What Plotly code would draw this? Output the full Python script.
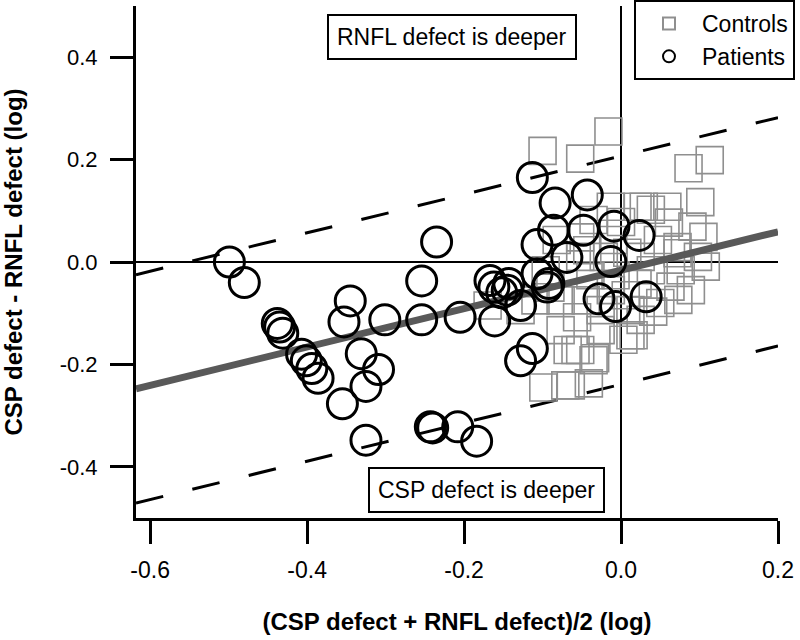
import plotly.graph_objects as go

# ---------------- data ----------------
patients_x = [-0.499, -0.480, -0.438, -0.435, -0.431, -0.407, -0.401, -0.394, -0.386,
              -0.345, -0.353, -0.331, -0.309, -0.325, -0.355, -0.325, -0.301, -0.254,
              -0.254, -0.235, -0.205, -0.243, -0.240, -0.208, -0.184, -0.161, -0.167,
              -0.162, -0.145, -0.143, -0.128, -0.113, -0.128, -0.113, -0.084, -0.043,
              -0.086, -0.107, -0.048, -0.009, 0.023, -0.069, -0.013, -0.107, -0.092,
              -0.094, -0.028, -0.007, 0.032, -0.152]
patients_y = [0.000, -0.040, -0.120, -0.127, -0.139, -0.180, -0.193, -0.208, -0.227,
              -0.076, -0.117, -0.179, -0.210, -0.243, -0.277, -0.348, -0.113, -0.113,
              -0.037, 0.039, -0.108, -0.322, -0.324, -0.322, -0.350, -0.115, -0.036,
              -0.049, -0.055, -0.042, -0.085, -0.169, -0.193, 0.165, 0.115, 0.131,
              0.062, 0.034, 0.062, 0.070, 0.052, 0.009, 0.001, -0.023, -0.042,
              -0.049, -0.072, -0.087, -0.068, -0.060]

controls_x = [-0.100, -0.052, -0.016, 0.086, 0.113, 0.101, -0.035, 0.029, 0.038, 0.061,
              -0.052, -0.043, 0.072, -0.170, -0.090, -0.056, -0.026, 0.012, 0.050, 0.016,
              -0.052, -0.035, 0.003, -0.099, -0.064, -0.041, -0.068, -0.033, -0.058, 0.012,
              0.041, 0.073, 0.063, 0.108, 0.021, -0.071, -0.013, 0.021, 0.059, 0.091,
              0.105, 0.098, 0.072, 0.047, -0.010, 0.008, 0.025, -0.022, -0.052, -0.082,
              0.000, 0.038, -0.007, -0.039, -0.077, -0.096, -0.109, -0.013, 0.006, 0.089,
              0.076, -0.077, -0.026, 0.025, -0.128, -0.045]
controls_y = [0.217, 0.202, 0.255, 0.183, 0.199, 0.117, 0.082, 0.108, 0.102, 0.077,
              0.048, 0.023, 0.017, -0.085, -0.050, -0.108, -0.094, -0.094, -0.080, -0.143,
              -0.172, -0.192, -0.152, -0.245, -0.241, -0.237, -0.172, -0.188, -0.172, -0.143,
              -0.097, -0.074, -0.048, -0.009, -0.042, -0.241, 0.108, 0.108, 0.108, 0.069,
              0.049, 0.010, 0.029, 0.043, 0.043, 0.018, 0.010, 0.010, 0.010, 0.043,
              0.078, -0.016, -0.026, -0.026, -0.075, -0.016, -0.075, -0.055, -0.065, -0.055,
              -0.016, -0.133, -0.133, -0.113, -0.094, -0.075]

# Bland-Altman style fit: mean line and limits of agreement
fit_slope = 0.375
fit_intercept = -0.016
fit_limit = 0.223
line_x = [-0.618, 0.2]

x_ticks = [-0.6, -0.4, -0.2, 0.0, 0.2]
x_tick_text = ["-0.6", "-0.4", "-0.2", "0.0", "0.2"]
y_ticks = [-0.4, -0.2, 0.0, 0.2, 0.4]
y_tick_text = ["-0.4", "-0.2", "0.0", "0.2", "0.4"]

FONT = "Liberation Sans, Arial, sans-serif"

fit_y = [fit_intercept + fit_slope * x for x in line_x]
upper_y = [v + fit_limit for v in fit_y]
lower_y = [v - fit_limit for v in fit_y]

fig = go.Figure()

fig.add_trace(go.Scatter(x=line_x, y=upper_y, mode="lines", showlegend=False,
                         line=dict(color="black", width=3, dash="28px,30px"), hoverinfo="skip"))
fig.add_trace(go.Scatter(x=line_x, y=lower_y, mode="lines", showlegend=False,
                         line=dict(color="black", width=3, dash="28px,30px"), hoverinfo="skip"))

fig.add_trace(go.Scatter(x=controls_x, y=controls_y, mode="markers", name="Controls",
                         marker=dict(symbol="square-open", size=27, color="#8f8f8f",
                                     line=dict(color="#8f8f8f", width=1.6))))
fig.add_trace(go.Scatter(x=line_x, y=fit_y, mode="lines", showlegend=False,
                         line=dict(color="#595959", width=7), hoverinfo="skip"))
fig.add_trace(go.Scatter(x=patients_x, y=patients_y, mode="markers", name="Patients",
                         marker=dict(symbol="circle-open", size=30, color="black",
                                     line=dict(color="black", width=3))))

fig.add_annotation(x=-0.215, y=0.439, xref="x", yref="y", text="RNFL defect is deeper",
                   showarrow=False, font=dict(family=FONT, size=23, color="black"),
                   bordercolor="black", borderwidth=2, borderpad=8, bgcolor="white")
fig.add_annotation(x=-0.172, y=-0.446, xref="x", yref="y", text="CSP defect is deeper",
                   showarrow=False, font=dict(family=FONT, size=23, color="black"),
                   bordercolor="black", borderwidth=2, borderpad=8, bgcolor="white")

fig.update_layout(
    width=800, height=640,
    margin=dict(l=136, r=22, t=6, b=122, autoexpand=False),
    plot_bgcolor="white", paper_bgcolor="white",
    font=dict(family=FONT, size=22, color="black"),
    legend=dict(xref="container", yref="container", x=0.7925, y=1.0,
                xanchor="left", yanchor="top",
                bordercolor="black", borderwidth=2, bgcolor="white",
                font=dict(family=FONT, size=23, color="black"),
                itemsizing="constant", itemwidth=56, tracegroupgap=0,
                entrywidth=100),
    xaxis=dict(range=[-0.618, 0.2], tickvals=x_ticks, ticktext=x_tick_text,
               showgrid=False, zeroline=True, zerolinecolor="black", zerolinewidth=2,
               showline=True, linecolor="black", linewidth=3,
               ticks="outside", ticklen=23, tickwidth=3, tickcolor="black",
               ticklabelstandoff=6,
               tickfont=dict(family=FONT, size=23),
               title=dict(text="<b>(CSP defect + RNFL defect)/2 (log)</b>",
                          font=dict(family=FONT, size=24), standoff=32)),
    yaxis=dict(range=[-0.5, 0.5], tickvals=y_ticks, ticktext=y_tick_text,
               showgrid=False, zeroline=True, zerolinecolor="black", zerolinewidth=2,
               showline=True, linecolor="black", linewidth=3,
               ticks="outside", ticklen=23, tickwidth=3, tickcolor="black",
               ticklabelstandoff=8,
               tickfont=dict(family=FONT, size=22),
               title=dict(text="<b>CSP defect - RNFL defect (log)</b>",
                          font=dict(family=FONT, size=24), standoff=36)),
)

fig.write_html("out.html", config={"displayModeBar": False},
               post_script="document.body.style.margin='0';")
